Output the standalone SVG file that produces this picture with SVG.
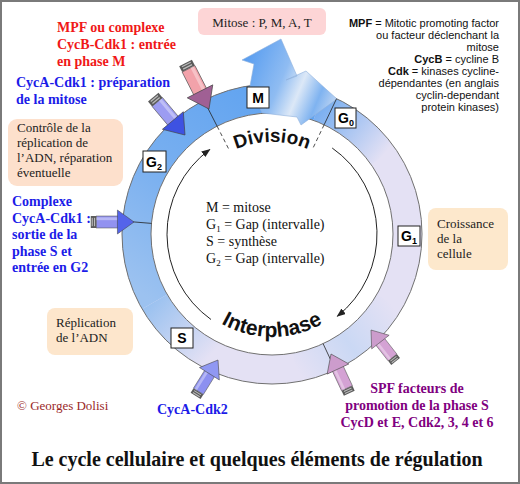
<svg xmlns="http://www.w3.org/2000/svg" width="520" height="484" viewBox="0 0 520 484">
<style>
.serif{font-family:"Liberation Serif","Times New Roman",serif}
.sans{font-family:"Liberation Sans",Arial,sans-serif}
.red{fill:#f01818;font-weight:bold;font-size:14px}
.blue{fill:#1c1ce8;font-weight:bold;font-size:14px}
.purple{fill:#800080;font-weight:bold;font-size:14px}
.note{fill:#222;font-size:13px}
.lbl{fill:#fff;stroke:#222;stroke-width:1}
.lbltxt{fill:#000;font-size:14px;font-weight:bold}
.edge{fill:none;stroke:#707070;stroke-width:1}
.div{stroke:#222;stroke-width:0.8;fill:none}
.dash{stroke:#222;stroke-width:0.8;fill:none;stroke-dasharray:4 3}
.thin{stroke:#222;stroke-width:1;fill:none}
.right{fill:#111;font-size:11px;text-anchor:end}
.ctr{fill:#111;font-size:14px}
.big{fill:#111;font-weight:bold}
</style>
<defs>
<marker id="ah" markerWidth="9" markerHeight="7" refX="8" refY="3.5" orient="auto" markerUnits="userSpaceOnUse">
<path d="M0,0 L9,3.5 L0,7 z" fill="#222"/>
</marker>
<linearGradient id="gMain" gradientUnits="userSpaceOnUse" x1="150" y1="300" x2="300" y2="95">
<stop offset="0" stop-color="#9cc2f0"/>
<stop offset="0.45" stop-color="#78aff0"/>
<stop offset="1" stop-color="#5ea2f0"/>
</linearGradient>
<linearGradient id="gLow" gradientUnits="userSpaceOnUse" x1="210" y1="356" x2="154" y2="302">
<stop offset="0" stop-color="#9cc2f0" stop-opacity="0"/>
<stop offset="1" stop-color="#9cc2f0" stop-opacity="1"/>
</linearGradient>
<linearGradient id="gUp" gradientUnits="userSpaceOnUse" x1="318" y1="106" x2="383" y2="156">
<stop offset="0" stop-color="#74acf0" stop-opacity="1"/>
<stop offset="1" stop-color="#74acf0" stop-opacity="0"/>
</linearGradient>
<linearGradient id="gBR" gradientUnits="userSpaceOnUse" x1="390" y1="302" x2="296" y2="368">
<stop offset="0" stop-color="#c4d6f4" stop-opacity="0"/>
<stop offset="0.5" stop-color="#c4d6f4" stop-opacity="0.8"/>
<stop offset="1" stop-color="#c4d6f4" stop-opacity="0"/>
</linearGradient>
<linearGradient id="gBig" gradientUnits="userSpaceOnUse" x1="245" y1="60" x2="340" y2="100">
<stop offset="0" stop-color="#5a9ef0"/>
<stop offset="0.4" stop-color="#8fbcf2"/>
<stop offset="0.6" stop-color="#dce8f7"/>
<stop offset="0.8" stop-color="#7fb3f0"/>
<stop offset="1" stop-color="#c8daf3"/>
</linearGradient>
<g id="arrow">
<rect x="-47" y="-6.5" width="6" height="13" fill="#5a5a5a"/>
<rect x="-46" y="-4.5" width="1.2" height="9" fill="#bbb"/>
<rect x="-43.5" y="-4.5" width="1.2" height="9" fill="#bbb"/>
<rect x="-41" y="-6.5" width="24" height="13" stroke="#555" stroke-width="0.6"/>
<rect x="-41" y="-5" width="24" height="3" fill="#fff" fill-opacity="0.35"/>
<path d="M-18,-13 L0,0 L-18,13 z" fill="currentColor" stroke="#444" stroke-width="0.6"/>
</g>
</defs>

<rect x="1" y="1" width="518" height="482" fill="#fff" stroke="#7a7a7a" stroke-width="2"/>

<!-- ring -->
<g id="ring">
<path d="M122,234 A150,150 0 1 1 422,234 A150,150 0 1 1 122,234 Z M151,234 A121,121 0 1 0 393,234 A121,121 0 1 0 151,234 Z" fill="#e4e1f4" fill-rule="evenodd"/>
<path d="M142.1,309 A150,150 0 0 1 323.3,93 L313.4,120.3 A121,121 0 0 0 167.2,294.5 Z" fill="url(#gMain)"/>
<path d="M208.6,369.9 A150,150 0 0 1 142.1,309 L167.2,294.5 A121,121 0 0 0 220.9,343.7 Z" fill="url(#gLow)"/>
<path d="M323.3,93 A150,150 0 0 1 394.9,148 L371.1,164.6 A121,121 0 0 0 313.4,120.3 Z" fill="url(#gUp)"/>
<path d="M401.9,309 A150,150 0 0 1 298,381.7 L293,353.2 A121,121 0 0 0 376.8,294.5 Z" fill="url(#gBR)"/>
<circle cx="272" cy="234" r="150" class="edge"/>
<circle cx="272" cy="234" r="121" class="edge"/>
</g>

<!-- big mitosis arrow -->
<g id="mitosis-arrow">
<path d="M250,86 L254,64 L242,60 L281,39 L297,76 L286,80 L306,71 L337,99 L301,125 L297,117 L262,113 Z" fill="url(#gBig)" stroke="#8eb0dc" stroke-width="0.6"/>
</g>

<!-- connectors -->
<g id="connectors">
<line x1="203.9" y1="100.4" x2="217.1" y2="126.2" class="div"/>
<line x1="217.1" y1="126.2" x2="228.9" y2="149.4" class="dash"/>
<line x1="336.6" y1="98.6" x2="324.1" y2="124.8" class="div"/>
<line x1="324.1" y1="124.8" x2="312.9" y2="148.3" class="dash"/>
<line x1="122.6" y1="221" x2="151.5" y2="223.4" class="div"/>
<line x1="323.1" y1="343.7" x2="335.4" y2="369.9" class="div"/>
<path d="M211,319.5 A105,105 0 0 1 209.7,149.5" class="thin" marker-end="url(#ah)"/>
<path d="M332.2,148 A105,105 0 0 1 337.4,316.2" class="thin" marker-end="url(#ah)"/>
</g>

<!-- regulator arrows -->
<g id="arrow-mpf"><use href="#arrow" transform="translate(209,109) rotate(63) scale(1.1)" fill="#f2a2aa" color="#a06094"/></g>
<g id="arrow-cyca-cdk1-prep"><use href="#arrow" transform="translate(185,135) rotate(50) scale(1.05)" fill="#9c9cf2" color="#3e52e2"/></g>
<g id="arrow-cyca-cdk1-s"><use href="#arrow" transform="translate(134,222) scale(0.92)" fill="#9292f0" color="#5464ea"/></g>
<g id="arrow-cyca-cdk2"><use href="#arrow" transform="translate(218,360) rotate(-58) scale(0.9)" fill="#8c90f0" color="#9098f2"/></g>
<g id="arrow-spf-1"><use href="#arrow" transform="translate(331,354) rotate(-115) scale(0.92)" fill="#d4a2d4" color="#cc9ccc"/></g>
<g id="arrow-spf-2"><use href="#arrow" transform="translate(371,330) rotate(-128) scale(0.85)" fill="#d4a2d4" color="#cc9ccc"/></g>

<!-- phase labels -->
<g id="phase-M"><rect x="247" y="87" width="22" height="21" class="lbl"/><text x="258" y="103" class="sans lbltxt" text-anchor="middle">M</text></g>
<g id="phase-G2"><rect x="143" y="151" width="23" height="21" class="lbl"/><text x="146" y="167" class="sans lbltxt">G<tspan font-size="9" dy="3">2</tspan></text></g>
<g id="phase-G0"><rect x="335" y="108" width="21" height="20" class="lbl"/><text x="338" y="123" class="sans lbltxt">G<tspan font-size="9" dy="3">0</tspan></text></g>
<g id="phase-G1"><rect x="398" y="226" width="22" height="20" class="lbl"/><text x="401" y="241" class="sans lbltxt">G<tspan font-size="9" dy="3">1</tspan></text></g>
<g id="phase-S"><rect x="171" y="328" width="22" height="20" class="lbl"/><text x="182" y="343" class="sans lbltxt" text-anchor="middle">S</text></g>

<!-- curved titles -->
<g id="division">
<path id="pDiv" d="M180,234 A92,92 0 0 1 364,234" fill="none"/>
<text class="sans big" font-size="19"><textPath href="#pDiv" startOffset="50%" text-anchor="middle">Division</textPath></text>
</g>
<g id="interphase">
<path id="pInt" d="M169,234 A103,103 0 0 0 375,234" fill="none"/>
<text class="sans big" font-size="21"><textPath href="#pInt" startOffset="50%" text-anchor="middle">Interphase</textPath></text>
</g>

<!-- legend in centre -->
<g id="legend-centre" class="serif ctr">
<text x="206" y="212">M = mitose</text>
<text x="206" y="229">G<tspan font-size="9" dy="3">1</tspan><tspan dy="-3"> = Gap (intervalle)</tspan></text>
<text x="206" y="246">S = synthèse</text>
<text x="206" y="263">G<tspan font-size="9" dy="3">2</tspan><tspan dy="-3"> = Gap (intervalle)</tspan></text>
</g>

<!-- boxes -->
<g id="box-mitose">
<rect x="198" y="8" width="128" height="27" rx="6" fill="#fdd5d6"/>
<text x="262" y="27" class="serif note" text-anchor="middle">Mitose : P, M, A, T</text>
</g>
<g id="box-controle">
<rect x="8" y="119" width="115" height="67" rx="9" fill="#fde0cc"/>
<text class="serif note"><tspan x="17" y="132">Contrôle de la</tspan><tspan x="17" y="147">réplication de</tspan><tspan x="17" y="162">l’ADN, réparation</tspan><tspan x="17" y="177">éventuelle</tspan></text>
</g>
<g id="box-replication">
<rect x="47" y="308" width="86" height="47" rx="8" fill="#fde6cc"/>
<text class="serif note"><tspan x="56" y="327">Réplication</tspan><tspan x="56" y="342">de l’ADN</tspan></text>
</g>
<g id="box-croissance">
<rect x="428" y="208" width="80" height="62" rx="8" fill="#fde8cc"/>
<text class="serif note"><tspan x="437" y="228">Croissance</tspan><tspan x="437" y="243">de la</tspan><tspan x="437" y="258">cellule</tspan></text>
</g>

<!-- regulator texts -->
<text class="serif red"><tspan x="57" y="32">MPF ou complexe</tspan><tspan x="57" y="49">CycB-Cdk1 : entrée</tspan><tspan x="57" y="66">en phase M</tspan></text>
<text class="serif blue"><tspan x="16" y="87">CycA-Cdk1 : préparation</tspan><tspan x="16" y="104">de la mitose</tspan></text>
<text class="serif blue"><tspan x="12" y="206">Complexe</tspan><tspan x="12" y="223">CycA-Cdk1 :</tspan><tspan x="12" y="239">sortie de la</tspan><tspan x="12" y="256">phase S et</tspan><tspan x="12" y="272">entrée en G2</tspan></text>
<text x="157" y="414" class="serif blue">CycA-Cdk2</text>
<text class="serif purple" text-anchor="middle"><tspan x="417" y="393">SPF facteurs de</tspan><tspan x="417" y="410">promotion de la phase S</tspan><tspan x="417" y="427">CycD et E, Cdk2, 3, 4 et 6</tspan></text>
<text x="17" y="410" class="serif" font-size="13" fill="#9a2828">© Georges Dolisi</text>

<!-- abbreviations -->
<g id="abbrev" class="sans right">
<text x="499" y="27"><tspan font-weight="bold">MPF</tspan> = Mitotic promoting factor</text>
<text x="499" y="39">ou facteur déclenchant la</text>
<text x="499" y="51">mitose</text>
<text x="499" y="63"><tspan font-weight="bold">CycB</tspan> = cycline B</text>
<text x="499" y="75"><tspan font-weight="bold">Cdk</tspan> = kinases cycline-</text>
<text x="499" y="87">dépendantes (en anglais</text>
<text x="499" y="99">cyclin-dependant</text>
<text x="499" y="111">protein kinases)</text>
</g>

<text x="257" y="466" class="serif" font-size="20" font-weight="bold" fill="#111" text-anchor="middle">Le cycle cellulaire et quelques éléments de régulation</text>
</svg>
